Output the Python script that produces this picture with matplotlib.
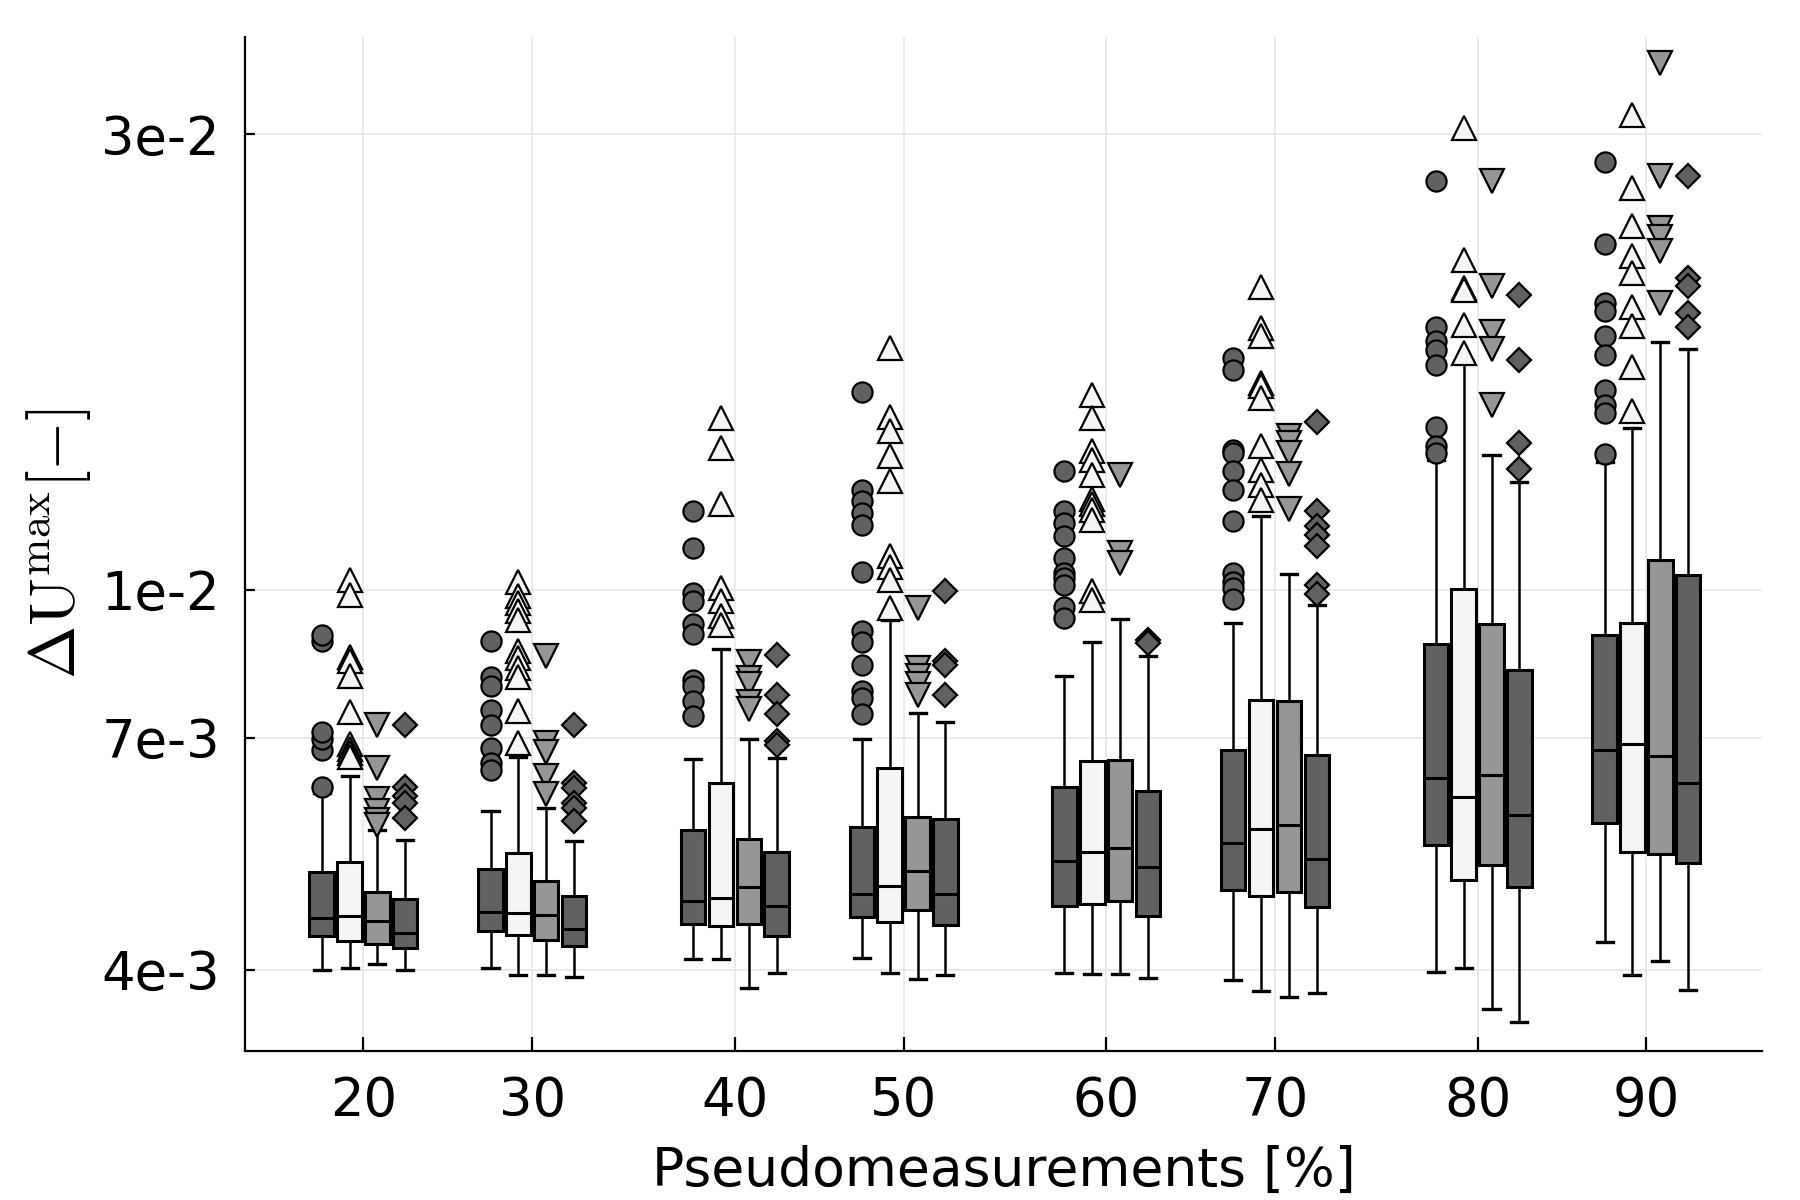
import numpy as np
import matplotlib
matplotlib.use('Agg')
import matplotlib.pyplot as plt
from matplotlib.ticker import NullLocator

# ---------------- data (values in units of 1e-3) ----------------
pseudo_labels = ['20', '30', '40', '50', '60', '70', '80', '90']
ytick_vals = [4e-3, 7e-3, 1e-2, 3e-2]
ytick_labels = ['4e-3', '7e-3', '1e-2', '3e-2']

# Series A (dark, circles)
A_lo = [4.00, 4.02, 4.11, 4.12, 3.97, 3.90, 3.98, 4.28]
A_q1 = [4.34, 4.39, 4.47, 4.54, 4.67, 4.85, 5.40, 5.70]
A_med = [4.53, 4.60, 4.72, 4.80, 5.20, 5.43, 6.35, 6.79]
A_q3 = [5.06, 5.10, 5.61, 5.65, 6.22, 6.79, 8.78, 8.96]
A_hi = [6.13, 5.86, 6.65, 6.97, 8.13, 9.23, 13.68, 13.61]
A_out = [
    [6.21, 6.80, 6.97, 7.10, 8.83, 8.97],
    [8.84, 8.11, 7.92, 7.49, 7.22, 6.83, 6.58, 6.48],
    [12.08, 11.06, 9.93, 9.73, 9.21, 8.99, 8.04, 7.92, 7.64, 7.37],
    [16.12, 12.72, 12.39, 12.02, 11.68, 10.43, 9.05, 8.82, 8.34, 7.84, 7.70, 7.41],
    [13.32, 12.08, 11.74, 11.37, 10.80, 10.41, 10.29, 10.12, 9.60, 9.34],
    [17.47, 17.00, 14.02, 13.90, 13.30, 12.73, 11.79, 10.41, 10.20, 10.04, 9.78],
    [26.76, 18.82, 18.20, 17.84, 17.20, 14.80, 14.13, 13.90],
    [28.04, 23.03, 19.96, 19.56, 18.42, 17.62, 16.20, 15.62, 15.31, 13.87],
]

# Series B (white, up triangles)
B_lo = [4.02, 3.95, 4.11, 3.97, 3.96, 3.80, 4.02, 3.95]
B_q1 = [4.29, 4.35, 4.45, 4.49, 4.69, 4.78, 4.97, 5.31]
B_med = [4.56, 4.59, 4.76, 4.90, 5.32, 5.62, 6.07, 6.90]
B_q3 = [5.19, 5.30, 6.28, 6.50, 6.61, 7.67, 10.02, 9.23]
B_hi = [6.39, 6.69, 8.67, 9.29, 8.81, 11.95, 17.41, 14.76]
B_out = [
    [10.23, 9.88, 8.51, 8.43, 8.13, 7.45, 6.90, 6.82, 6.74, 6.69],
    [10.20, 9.84, 9.69, 9.49, 9.30, 8.62, 8.48, 8.28, 8.11, 7.46, 6.91],
    [15.11, 14.07, 12.29, 10.05, 9.74, 9.39, 9.19],
    [17.92, 15.18, 14.66, 13.80, 12.99, 10.86, 10.56, 10.24, 9.56],
    [15.98, 15.13, 13.96, 13.68, 13.17, 12.45, 12.30, 12.11, 11.82, 9.96, 9.76],
    [20.72, 18.81, 18.42, 16.46, 16.33, 15.88, 14.13, 13.33, 12.88, 12.40],
    [30.44, 22.15, 20.70, 20.58, 18.94, 17.69],
    [31.41, 26.36, 24.05, 22.37, 21.46, 19.77, 18.87, 17.11, 15.39],
]

# Series C (grey, down triangles)
C_lo = [4.06, 3.95, 3.83, 3.91, 3.96, 3.75, 3.64, 4.09]
C_q1 = [4.26, 4.30, 4.47, 4.62, 4.72, 4.83, 5.15, 5.29]
C_med = [4.50, 4.57, 4.88, 5.08, 5.37, 5.67, 6.40, 6.70]
C_q3 = [4.83, 4.96, 5.48, 5.78, 6.64, 7.64, 9.21, 10.75]
C_hi = [5.60, 5.91, 6.97, 7.43, 9.32, 10.39, 13.85, 18.15]
C_out = [
    [7.22, 6.50, 6.04, 5.87, 5.74, 5.67],
    [8.52, 6.91, 6.77, 6.39, 6.11],
    [8.41, 8.09, 7.96, 7.63, 7.51],
    [9.56, 8.29, 8.13, 7.96, 7.76],
    [13.20, 10.92, 10.66],
    [14.47, 14.24, 13.90, 13.22, 12.15],
    [26.76, 20.81, 18.59, 17.87, 15.62],
    [35.61, 27.14, 23.92, 23.38, 22.65, 19.96],
]

# Series D (dark, diamonds)
D_lo = [4.00, 3.93, 3.97, 3.95, 3.92, 3.78, 3.53, 3.81]
D_q1 = [4.22, 4.24, 4.34, 4.46, 4.55, 4.66, 4.88, 5.17]
D_med = [4.37, 4.41, 4.67, 4.80, 5.13, 5.22, 5.81, 6.28]
D_q3 = [4.74, 4.78, 5.32, 5.75, 6.15, 6.71, 8.24, 10.37]
D_hi = [5.47, 5.46, 6.67, 7.27, 8.53, 9.65, 12.95, 17.87]
D_out = [
    [7.22, 6.21, 6.08, 5.98, 5.77],
    [7.22, 6.28, 6.20, 5.98, 5.91, 5.72],
    [8.54, 7.76, 7.41, 6.95, 6.88],
    [9.98, 8.42, 8.34, 7.76],
    [8.86, 8.80],
    [14.97, 12.08, 11.65, 11.42, 11.12, 10.12, 9.90],
    [20.36, 17.39, 14.24, 13.39],
    [27.09, 21.20, 20.78, 19.48, 18.84],
]

# ---------------- layout ----------------
group_x = np.array([0.0, 1.0, 2.2, 3.2, 4.4, 5.4, 6.6, 7.6])
offsets = np.array([-1.5, -0.5, 0.5, 1.5]) * 0.165
box_w = 0.145
cap_w = 0.095

plt.rcParams['mathtext.fontset'] = 'cm'
fig = plt.figure(figsize=(18, 12), dpi=100)
ax = fig.add_axes([0.1361, 0.1242, 0.8428, 0.845])

series = [
    (A_lo, A_q1, A_med, A_q3, A_hi, A_out, '#616161', 'o', 14.5),
    (B_lo, B_q1, B_med, B_q3, B_hi, B_out, '#f5f5f5', '^', 17),
    (C_lo, C_q1, C_med, C_q3, C_hi, C_out, '#969696', 'v', 17),
    (D_lo, D_q1, D_med, D_q3, D_hi, D_out, '#616161', 'D', 12.5),
]

for si, (lo, q1, med, q3, hi, out, col, mk, ms) in enumerate(series):
    stats = []
    for g in range(len(pseudo_labels)):
        stats.append(dict(whislo=lo[g] * 1e-3, q1=q1[g] * 1e-3, med=med[g] * 1e-3,
                          q3=q3[g] * 1e-3, whishi=hi[g] * 1e-3,
                          fliers=np.array(out[g]) * 1e-3))
    ax.bxp(stats, positions=group_x + offsets[si], widths=box_w, capwidths=cap_w,
           patch_artist=True, showfliers=True, manage_ticks=False, zorder=3 + si,
           boxprops=dict(facecolor=col, edgecolor='black', linewidth=2.2),
           medianprops=dict(color='black', linewidth=2.2),
           whiskerprops=dict(color='black', linewidth=1.8),
           capprops=dict(color='black', linewidth=2.4),
           flierprops=dict(marker=mk, markerfacecolor=col, markeredgecolor='black',
                           markersize=ms, markeredgewidth=1.6, linestyle='none'))

ax.set_yscale('log')
ax.set_xlim(-0.702, 8.285)
ax.set_ylim(3.29e-3, 3.79e-2)
ax.set_xticks(group_x)
ax.set_xticklabels(pseudo_labels)
ax.set_yticks(ytick_vals)
ax.set_yticklabels(ytick_labels)
ax.yaxis.set_minor_locator(NullLocator())
ax.xaxis.set_minor_locator(NullLocator())

ax.grid(True, color='#e6e6e6', linewidth=1.2)
ax.set_axisbelow(True)
for side in ['top', 'right']:
    ax.spines[side].set_visible(False)
for side in ['left', 'bottom']:
    ax.spines[side].set_linewidth(1.6)

ax.tick_params(axis='x', direction='in', length=10, width=1.6, pad=17, labelsize=38)
ax.tick_params(axis='y', direction='in', length=7, width=1.6, pad=18, labelsize=38)

ax.set_xlabel('Pseudomeasurements [%]', fontsize=38.5, labelpad=13)
ax.set_ylabel(r'$\Delta\mathrm{U}^{\mathrm{max}}[-]$', fontsize=46, va='center')
ax.yaxis.set_label_coords(-0.123, 0.5)

fig.savefig('out.png', dpi=100)
